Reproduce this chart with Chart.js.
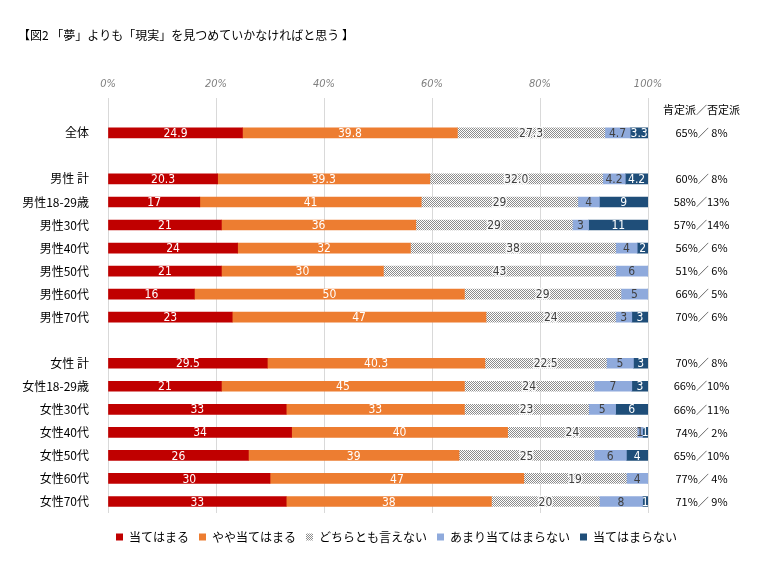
<!DOCTYPE html>
<html lang="ja">
<head>
<meta charset="utf-8">
<title>図2</title>
<script src="https://cdn.jsdelivr.net/npm/chart.js@4.4.1/dist/chart.umd.min.js"></script>
<style>
    html, body { margin: 0; padding: 0; background: #fff; }
    canvas { display: block; }
</style>
</head>
<body>
<canvas id="surveyChart" width="775" height="576"></canvas>
<script>
const categories = ['', '全体', '', '男性 計', '男性18-29歳', '男性30代', '男性40代', '男性50代', '男性60代', '男性70代',
    '', '女性 計', '女性18-29歳', '女性30代', '女性40代', '女性50代', '女性60代', '女性70代'];
const rightLabels = ['肯定派／否定派', '65%／ 8%', '', '60%／ 8%', '58%／13%', '57%／14%', '56%／ 6%', '51%／ 6%', '66%／ 5%', '70%／ 6%',
    '', '70%／ 8%', '66%／10%', '66%／11%', '74%／ 2%', '65%／10%', '77%／ 4%', '71%／ 9%'];
const seriesNames = ['当てはまる', 'やや当てはまる', 'どちらとも言えない', 'あまり当てはまらない', '当てはまらない'];

const yesValues       = [null, 24.9, null, 20.3, 17, 21, 24, 21, 16, 23, null, 29.5, 21, 33, 34, 26, 30, 33];
const somewhatValues  = [null, 39.8, null, 39.3, 41, 36, 32, 30, 50, 47, null, 40.3, 45, 33, 40, 39, 47, 38];
const neutralValues   = [null, 27.3, null, 32.0, 29, 29, 38, 43, 29, 24, null, 22.5, 24, 23, 24, 25, 19, 20];
const notReallyValues = [null, 4.7, null, 4.2, 4, 3, 4, 6, 5, 3, null, 5, 7, 5, 1, 6, 4, 8];
const noValues        = [null, 3.3, null, 4.2, 9, 11, 2, 0, 0, 3, null, 3, 3, 6, 1, 4, 0, 1];

const oneDecimalRows = [1, 3];
const xTicks = [0, 20, 40, 60, 80, 100];

const jpFont = '"Noto Sans CJK JP", "Noto Sans", sans-serif';
const narrowFont = '"Liberation Sans Narrow", "DejaVu Sans Condensed", "Liberation Sans", sans-serif';

function makeDotPattern() {
    const c = document.createElement('canvas');
    c.width = 2;
    c.height = 2;
    const g = c.getContext('2d');
    g.fillStyle = '#ffffff';
    g.fillRect(0, 0, 2, 2);
    g.fillStyle = '#8c8c8c';
    g.fillRect(0, 0, 1, 1);
    g.fillRect(1, 1, 1, 1);
    return g.createPattern(c, 'repeat');
}

const labelColors = ['#ffffff', '#ffffff', '#404040', '#404040', '#ffffff'];

// draws the value in the middle of each segment
const segmentLabels = {
    id: 'segmentLabels',
    afterDatasetsDraw(chart) {
        const ctx = chart.ctx;
        const area = chart.chartArea;
        ctx.save();
        ctx.font = '12px ' + narrowFont;
        ctx.textAlign = 'center';
        ctx.textBaseline = 'middle';
        chart.data.datasets.forEach((ds, i) => {
            const meta = chart.getDatasetMeta(i);
            meta.data.forEach((bar, j) => {
                const v = ds.data[j];
                if (!v) return;
                const p = bar.getProps(['x', 'y', 'base'], true);
                const right = Math.min(p.x, area.right);
                const cx = (p.base + right) / 2;
                const text = oneDecimalRows.includes(j) ? v.toFixed(1) : String(v);
                if (i === 2) {
                    ctx.lineWidth = 3;
                    ctx.strokeStyle = 'rgba(255,255,255,0.85)';
                    ctx.strokeText(text, cx, p.y + 1);
                }
                ctx.fillStyle = labelColors[i];
                ctx.fillText(text, cx, p.y + 1);
            });
        });
        ctx.restore();
    }
};

const dots = makeDotPattern();
const seriesData = [yesValues, somewhatValues, neutralValues, notReallyValues, noValues];
const seriesColors = ['#C00000', '#ED7D31', dots, '#8FAADC', '#1F4E79'];

new Chart(document.getElementById('surveyChart'), {
    type: 'bar',
    data: {
        labels: categories,
        datasets: seriesNames.map((name, i) => ({
            label: name,
            data: seriesData[i],
            backgroundColor: seriesColors[i],
            borderWidth: 0,
            barThickness: 10
        }))
    },
    options: {
        indexAxis: 'y',
        responsive: false,
        animation: false,
        layout: { padding: { left: 18, right: 0, top: 0, bottom: 23 } },
        scales: {
            x: {
                position: 'top',
                stacked: true,
                min: 0,
                max: 100,
                afterBuildTicks: (scale) => { scale.ticks = xTicks.map(v => ({ value: v })); },
                ticks: {
                    callback: (v) => v + '%',
                    color: '#7f7f7f',
                    font: { family: narrowFont, size: 11, style: 'italic' },
                    padding: 8,
                    maxRotation: 0
                },
                grid: { color: '#d9d9d9', drawTicks: false },
                border: { display: false },
                afterFit: (s) => { s.height = 45.4; }
            },
            y: {
                stacked: true,
                grid: { display: false },
                border: { display: false },
                ticks: { color: '#000', font: { family: jpFont, size: 12 }, padding: 11 },
                afterFit: (s) => { s.width = 90; }
            },
            y2: {
                type: 'category',
                labels: rightLabels,
                position: 'right',
                offset: true,
                grid: { display: false },
                border: { display: false },
                ticks: { color: '#000', font: { family: jpFont, size: 11 }, padding: 7, crossAlign: 'center' },
                afterFit: (s) => { s.width = 127; }
            }
        },
        plugins: {
            title: {
                display: true,
                text: '【図2 「夢」よりも「現実」を見つめていかなければと思う 】',
                align: 'start',
                color: '#000',
                font: { family: jpFont, size: 12, weight: 'normal' },
                padding: { top: 28.5, bottom: 10 }
            },
            subtitle: {
                // spacer between plot and legend
                display: true,
                text: '',
                position: 'bottom',
                weight: 500,
                font: { size: 8, lineHeight: 1 },
                padding: 0
            },
            legend: {
                position: 'bottom',
                labels: {
                    boxWidth: 7,
                    boxHeight: 7,
                    padding: 10,
                    color: '#000',
                    font: { family: jpFont, size: 12 }
                }
            },
            tooltip: { enabled: false }
        }
    },
    plugins: [segmentLabels]
});
</script>
</body>
</html>
